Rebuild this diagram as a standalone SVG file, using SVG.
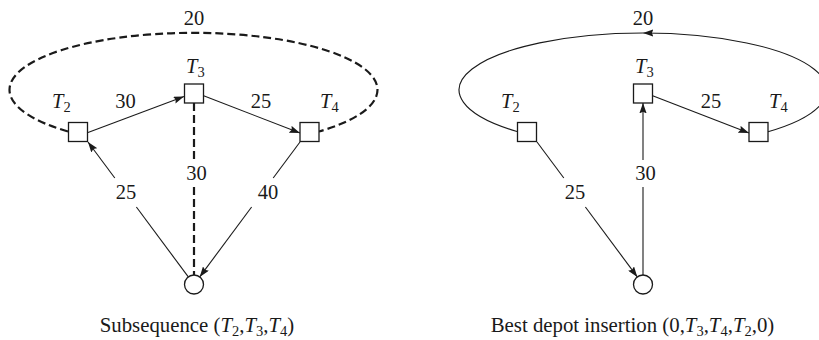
<svg xmlns="http://www.w3.org/2000/svg" width="819" height="340" viewBox="0 0 819 340">
  <style>
    text { font-family: "Liberation Serif", "Times New Roman", serif; font-size: 20.5px; fill: #1a1a1a; }
    .cap { font-size: 20.8px; }
    .it { font-style: italic; }
    .sub { font-style: normal; font-size: 14.5px; }
    .mid { text-anchor: middle; }
    .box { fill: #fff; stroke: #1a1a1a; stroke-width: 1.3; }
    .edge { fill: none; stroke: #1a1a1a; stroke-width: 1.1; }
    .dash { fill: none; stroke: #1a1a1a; stroke-width: 2.2; stroke-dasharray: 8 4; }
    .arr { marker-end: url(#ah); }
  </style>
  <defs>
    <marker id="ah" viewBox="0 0 10 7" refX="10" refY="3.5" markerWidth="10.5" markerHeight="7.3" orient="auto" markerUnits="userSpaceOnUse">
      <path d="M0,0 L10,3.5 L0,7 L1.5,3.5 z" fill="#1a1a1a"/>
    </marker>
  </defs>

  <!-- LEFT PANEL connectors -->
  <g id="left-connectors">
    <path class="dash" d="M 68 131.5 A 184 57 0 1 1 319 131.5"/>
    <path class="dash" d="M 194 103 L 194 160"/>
    <path class="dash" d="M 194 187 L 194 275"/>
    <path class="edge arr" d="M 88 132.5 L 184 96.5"/>
    <path class="edge arr" d="M 203 95.5 L 300 133"/>
    <path class="edge" d="M 188.3 276.9 L 136.4 207"/>
    <path class="edge arr" d="M 114.8 178 L 88 142"/>
    <path class="edge" d="M 300 142 L 273.2 178"/>
    <path class="edge arr" d="M 251.6 207 L 199.7 276.9"/>
    <text class="mid" x="194" y="24.5">20</text>
    <text class="mid" x="125.5" y="108">30</text>
    <text class="mid" x="261" y="108">25</text>
    <text class="mid" x="126" y="199">25</text>
    <text class="mid" x="196.5" y="180">30</text>
    <text class="mid" x="268" y="199">40</text>
  </g>

  <!-- LEFT PANEL nodes -->
  <g id="left-T2">
    <rect class="box" x="68.5" y="122.5" width="19" height="19"/>
    <text x="52" y="108"><tspan class="it">T</tspan><tspan class="sub" dy="4">2</tspan></text>
  </g>
  <g id="left-T3">
    <rect class="box" x="184.5" y="84" width="19" height="19"/>
    <text x="186" y="73"><tspan class="it">T</tspan><tspan class="sub" dy="4">3</tspan></text>
  </g>
  <g id="left-T4">
    <rect class="box" x="300" y="122.5" width="19" height="19"/>
    <text x="320" y="108"><tspan class="it">T</tspan><tspan class="sub" dy="4">4</tspan></text>
  </g>
  <g id="left-depot">
    <circle class="box" cx="194" cy="284.5" r="9.5"/>
  </g>
  <text class="mid cap" x="197" y="332">Subsequence (<tspan class="it">T</tspan><tspan class="sub" dy="4">2</tspan><tspan dy="-4">,</tspan><tspan class="it">T</tspan><tspan class="sub" dy="4">3</tspan><tspan dy="-4">,</tspan><tspan class="it">T</tspan><tspan class="sub" dy="4">4</tspan><tspan dy="-4">)</tspan></text>

  <!-- RIGHT PANEL connectors -->
  <g id="right-connectors">
    <path class="edge" d="M 768 131.8 A 184 57 0 0 0 643 33 A 184 57 0 0 0 517 131.5" marker-mid="url(#ah)"/>
    <path class="edge" d="M 643 275 L 643 187"/>
    <path class="edge arr" d="M 643 160 L 643 103"/>
    <path class="edge arr" d="M 652 95.5 L 749 133"/>
    <path class="edge" d="M 537 142 L 563.8 178"/>
    <path class="edge arr" d="M 585.4 207 L 637.3 276.9"/>
    <text class="mid" x="643" y="24.5">20</text>
    <text class="mid" x="711" y="108">25</text>
    <text class="mid" x="645.5" y="180">30</text>
    <text class="mid" x="575" y="199">25</text>
  </g>

  <!-- RIGHT PANEL nodes -->
  <g id="right-T2">
    <rect class="box" x="517.5" y="122.5" width="19" height="19"/>
    <text x="501" y="108"><tspan class="it">T</tspan><tspan class="sub" dy="4">2</tspan></text>
  </g>
  <g id="right-T3">
    <rect class="box" x="633.5" y="84" width="19" height="19"/>
    <text x="635" y="73"><tspan class="it">T</tspan><tspan class="sub" dy="4">3</tspan></text>
  </g>
  <g id="right-T4">
    <rect class="box" x="749" y="122.5" width="19" height="19"/>
    <text x="769" y="108"><tspan class="it">T</tspan><tspan class="sub" dy="4">4</tspan></text>
  </g>
  <g id="right-depot">
    <circle class="box" cx="643" cy="284.5" r="9.5"/>
  </g>
  <text class="mid cap" x="632.5" y="332">Best depot insertion (0,<tspan class="it">T</tspan><tspan class="sub" dy="4">3</tspan><tspan dy="-4">,</tspan><tspan class="it">T</tspan><tspan class="sub" dy="4">4</tspan><tspan dy="-4">,</tspan><tspan class="it">T</tspan><tspan class="sub" dy="4">2</tspan><tspan dy="-4">,0)</tspan></text>
</svg>
